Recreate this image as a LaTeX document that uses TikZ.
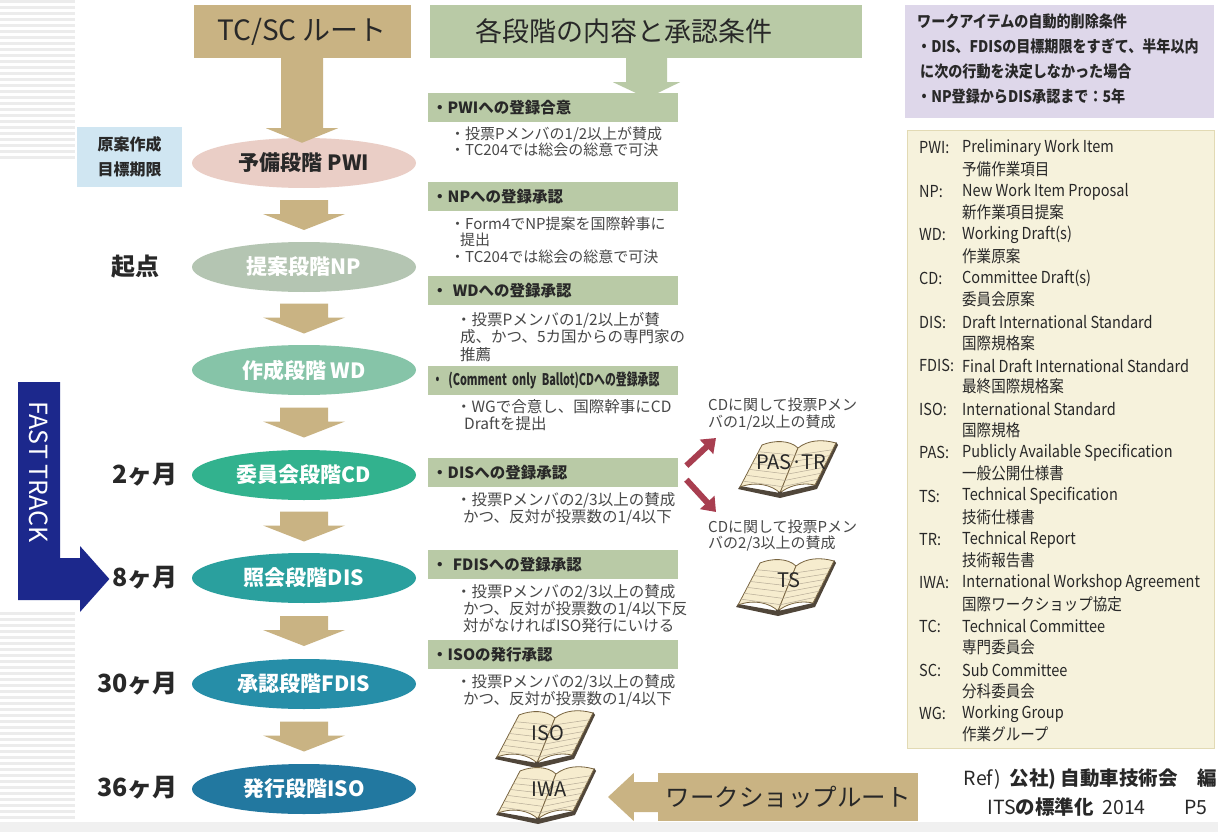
\documentclass[tikz,border=0pt]{standalone}
\usepackage{fontspec}
\setmainfont{Noto Sans CJK JP}
\newfontfamily\condfont{Noto Sans CJK JP}[FakeStretch=0.68]
\newfontfamily\legfont{Noto Sans CJK JP}[FakeStretch=0.88]
\newfontfamily\delfont{Noto Sans CJK JP}[FakeStretch=0.88]
\usetikzlibrary{arrows.meta,calc,shapes.geometric}

\definecolor{tanc}{RGB}{201,179,131}
\definecolor{sage}{RGB}{185,202,166}
\definecolor{skyb}{RGB}{208,230,242}
\definecolor{cpwi}{RGB}{234,206,198}
\definecolor{cnp}{RGB}{180,197,178}
\definecolor{cwd}{RGB}{134,196,168}
\definecolor{ccd}{RGB}{50,178,142}
\definecolor{cdis}{RGB}{42,160,158}
\definecolor{cfdis}{RGB}{38,142,168}
\definecolor{ciso}{RGB}{34,120,160}
\definecolor{ftblue}{RGB}{28,40,140}
\definecolor{redc}{RGB}{168,62,80}
\definecolor{purp}{RGB}{222,215,234}
\definecolor{cream}{RGB}{246,242,220}
\definecolor{creamedge}{RGB}{226,218,180}
\definecolor{txt}{RGB}{40,40,40}
\definecolor{bodytxt}{RGB}{72,72,72}
\definecolor{stripe}{RGB}{236,236,236}
\definecolor{bkpagec}{RGB}{246,236,206}
\definecolor{bkedge}{RGB}{120,100,64}
\definecolor{bkcov}{RGB}{80,70,58}

\tikzset{
  stage/.style={ellipse, minimum width=224pt, minimum height=50pt, inner sep=0pt,
    font=\fontsize{21}{21}\selectfont\bfseries, text=white},
  hdr/.style={rectangle, inner sep=0pt, text=txt},
  condhdr/.style={rectangle, fill=sage, anchor=north west, minimum width=250pt,
    minimum height=29pt, text width=242pt, inner xsep=4pt, inner ysep=0pt,
    align=left, font=\fontsize{15.5}{17}\selectfont\bfseries, text=txt},
  body/.style={anchor=north west, inner sep=0pt, align=left,
    font=\fontsize{15}{16.5}\selectfont, text=bodytxt},
  month/.style={anchor=east, inner sep=0pt, font=\fontsize{25}{25}\selectfont\bfseries, text=txt},
  tanarrow/.style={fill=tanc},
  redarr/.style={draw=redc, line width=6pt, -{Triangle[length=13pt,width=19pt]}},
  note/.style={anchor=north west, inner sep=0pt, align=left,
    font=\fontsize{15}{17}\selectfont, text=bodytxt},
  booklbl/.style={inner sep=0pt, font=\fontsize{20}{20}\selectfont, text=txt},
  legab/.style={anchor=west, inner sep=0pt, font=\legfont\fontsize{16.5}{16.5}\selectfont, text=txt},
  bkpage/.style={fill=bkpagec, draw=bkedge, line width=0.8pt},
  bkline/.style={draw=bkedge!55, line width=0.5pt},
  bkcover/.style={fill=bkcov},
  blockdown/.pic={
    \fill[tanarrow] (-24,-15) -- (24,-15) -- (24,-1) -- (41,-1) -- (0,15)
      -- (-41,-1) -- (-24,-1) -- cycle;
  },
  openbook/.pic={
    \fill[bkcover] (-50,22) -- (-8,31) -- (29,22) -- (50,-22) -- (48,-25)
      -- (27,18) -- (-8,26) -- (-48,19) -- cycle;
    \filldraw[bkpage] (-48,20) .. controls (-32,14) and (-16,18) .. (-8,26)
      -- (10,-19) .. controls (2,-27) and (-14,-27) .. (-26,-22) -- cycle;
    \filldraw[bkpage] (10,-19) .. controls (20,-27) and (34,-28) .. (48,-24)
      -- (27,18) .. controls (14,15) and (0,19) .. (-8,26) -- cycle;
    \foreach \t in {0.16,0.30,0.44,0.58,0.72,0.86}{
      \draw[bkline] ($(-26,-22)!\t!(-48,20)$) -- ($(10,-19)!\t!(-8,26)$);
      \draw[bkline] ($(10,-19)!\t!(-8,26)$) -- ($(48,-24)!\t!(27,18)$);
    }
    \fill[bkcover] (-8,27) circle (2.5);
  }
}

\begin{document}
\begin{tikzpicture}[x=1pt,y=-1pt]
\useasboundingbox (0,0) rectangle (1218,832);
\fill[white] (0,0) rectangle (1218,832);

% slide background: striped margin and bottom band
\foreach \yy in {0,6,...,156} {\fill[stripe] (0,\yy) rectangle (75,\yy+3);}
\foreach \yy in {612,618,...,816} {\fill[stripe] (0,\yy) rectangle (75,\yy+3);}
\fill[gray!12] (0,822) rectangle (1218,832);

% ---------- TC/SC route ----------
\node[hdr, fill=tanc, minimum width=217pt, minimum height=53pt,
  font=\fontsize{28}{28}\selectfont] (tcsc) at (302,31.5) {TC/SC ルート};

\node[stage, fill=cpwi, text=txt] (pwi) at (304,163) {予備段階 PWI};
\node[stage, fill=cnp]  (np)   at (304,267) {提案段階NP};
\node[stage, fill=cwd]  (wd)   at (304,370) {作成段階 WD};
\node[stage, fill=ccd]  (cd)   at (304,475) {委員会段階CD};
\node[stage, fill=cdis] (dis)  at (304,578) {照会段階DIS};
\node[stage, fill=cfdis](fdis) at (304,684) {承認段階FDIS};
\node[stage, fill=ciso] (iso)  at (304,789) {発行段階ISO};

\fill[tanarrow] ($(tcsc.south)+(-21,0)$) -- ($(tcsc.south)+(21,0)$)
  -- ($(tcsc.south)+(21,70)$) -- ($(tcsc.south)+(36,70)$)
  -- ($(pwi.north)+(-2,5)$) -- ($(tcsc.south)+(-36,70)$)
  -- ($(tcsc.south)+(-21,70)$) -- cycle;

\pic at ($(pwi.south)!.5!(np.north)$) {blockdown};
\pic at ($(np.south)!.5!(wd.north)$) {blockdown};
\pic at ($(wd.south)!.5!(cd.north)$) {blockdown};
\pic at ($(cd.south)!.5!(dis.north)$) {blockdown};
\pic at ($(dis.south)!.5!(fdis.north)$) {blockdown};
\pic at ($(fdis.south)!.5!(iso.north)$) {blockdown};

% ---------- time line on the left ----------
\node[fill=skyb, minimum width=105pt, minimum height=60pt, inner sep=0pt,
  align=center, font=\fontsize{16}{25}\selectfont\bfseries, text=txt]
  (goal) at (129.5,157) {原案作成\\目標期限};
\node[inner sep=0pt, font=\fontsize{24}{24}\selectfont\bfseries, text=txt]
  (start) at (135,267) {起点};
\node[month] (m2)  at (178,475) {2ヶ月};
\node[month] (m8)  at (178,578) {8ヶ月};
\node[month] (m30) at (178,684) {30ヶ月};
\node[month] (m36) at (178,788) {36ヶ月};

% fast track
\coordinate (fttip) at ($(m8.west)+(-3,1)$);
\fill[ftblue] (18,382) -- (60,382) -- (60,558) -- (80,558) -- (80,546)
  -- (fttip) -- (80,612) -- (80,600) -- (18,600) -- cycle;
\node[rotate=-90, inner sep=0pt, font=\fontsize{25}{25}\selectfont, text=white]
  (ft) at (39,472) {FAST TRACK};

% ---------- stage conditions ----------
\node[hdr, fill=sage, minimum width=432pt, minimum height=53pt, text width=342pt,
  align=left, font=\fontsize{27}{27}\selectfont] (cond) at (646,31.5)
  {各段階の内容と承認条件};

\node[condhdr] (pwic)  at (428,93)  {・PWIへの登録合意};
\node[condhdr] (npc)   at (428,182) {・NPへの登録承認};
\node[condhdr] (wdc)   at (428,276) {・ WDへの登録承認};
\node[condhdr, font=\condfont\fontsize{16}{17}\selectfont\bfseries]
               (cdc)   at (428,366) {\mbox{・ (Comment only Ballot)CDへの登録承認}};
\node[condhdr] (disc)  at (428,458) {・DISへの登録承認};
\node[condhdr] (fdisc) at (428,550) {・ FDISへの登録承認};
\node[condhdr] (isoc)  at (428,640) {・ISOの発行承認};

\fill[tanarrow, fill=sage] ($(cond.south)+(-20,0)$) -- ($(cond.south)+(21,0)$)
  -- ($(cond.south)+(21,24)$) -- ($(cond.south)+(34,24)$)
  -- ($(cond.south)+(1,40)$) -- ($(cond.south)+(-33,24)$)
  -- ($(cond.south)+(-20,24)$) -- cycle;

\node[body] (pwib) at (450,126.5)
  {・投票Pメンバの1/2以上が賛成\\・TC204では総会の総意で可決};
\node[body] (npb) at (450,216.5)
  {・Form4でNP提案を国際幹事に\\\hspace*{10pt}提出\\・TC204では総会の総意で可決};
\node[body, font=\fontsize{15.5}{17.5}\selectfont] (wdb) at (456,312)
  {・投票Pメンバの1/2以上が賛\\\hspace*{4pt}成、かつ、5カ国からの専門家の\\\hspace*{4pt}推薦};
\node[body, font=\fontsize{15.5}{17}\selectfont] (cdb) at (456,399.5)
  {・WGで合意し、国際幹事にCD\\\hspace*{8pt}Draftを提出};
\node[body, font=\fontsize{15.5}{17}\selectfont] (disb) at (456,492.5)
  {・投票Pメンバの2/3以上の賛成\\\hspace*{7pt}かつ、反対が投票数の1/4以下};
\node[body, font=\fontsize{15.5}{15.8}\selectfont] (fdisb) at (456,584.5)
  {・投票Pメンバの2/3以上の賛成\\\hspace*{7pt}かつ、反対が投票数の1/4以下反\\\hspace*{7pt}対がなければISO発行にいける};
\node[body, font=\fontsize{15.5}{15.5}\selectfont] (isob) at (456,674.5)
  {・投票Pメンバの2/3以上の賛成\\\hspace*{7pt}かつ、反対が投票数の1/4以下};

% ---------- branches from CD ----------
\coordinate (forkA) at ($(disc.east)+(8,-7)$);
\coordinate (forkB) at ($(disc.east)+(8,7)$);
\coordinate (pastip) at (716,438);
\coordinate (tstip) at (716,512);
\draw[redarr] (forkA) -- (pastip);
\draw[redarr] (forkB) -- (tstip);

\node[note] (pasnote) at (708,397.5) {CDに関して投票Pメン\\バの1/2以上の賛成};
\node[note, font=\fontsize{15}{16.5}\selectfont] (tsnote) at (708,519.5)
  {CDに関して投票Pメン\\バの2/3以上の賛成};

\pic at (788,467) {openbook};
\node[booklbl] (paslbl) at (791,462) {PAS·TR};
\pic at (786,585) {openbook};
\node[booklbl] (tslbl) at (789,580) {TS};
\pic at (545,737) {openbook};
\node[booklbl] (isolbl) at (548,733) {ISO};
\pic at (546,793) {openbook};
\node[booklbl] (iwalbl) at (549,789) {IWA};

% ---------- workshop route ----------
\node[hdr, fill=tanc, minimum width=260pt, minimum height=48pt,
  font=\fontsize{24.5}{24.5}\selectfont] (ws) at (788,797) {ワークショップルート};
\coordinate (wstip) at (608,797);
\fill[tanarrow] ($(ws.west)+(2,-15)$) -- ($(ws.west)+(-24,-15)$)
  -- ($(ws.west)+(-24,-24)$) -- (wstip) -- ($(ws.west)+(-24,24)$)
  -- ($(ws.west)+(-24,15)$) -- ($(ws.west)+(2,15)$) -- cycle;

% ---------- deletion conditions ----------
\node[fill=purp, anchor=north west, minimum width=309pt, minimum height=113pt,
  inner sep=0pt] (delbox) at (905,5) {};
\node[anchor=north west, inner sep=0pt, align=left,
  font=\delfont\fontsize{16}{25}\selectfont\bfseries, text=txt]
  (deltext) at ($(delbox.north west)+(12,9)$)
  {ワークアイテムの自動的削除条件\\・DIS、FDISの目標期限をすぎて、半年以内\\\hspace*{3pt}に次の行動を決定しなかった場合\\・NP登録からDIS承認まで：5年};

% ---------- glossary ----------
\node[fill=cream, draw=creamedge, anchor=north west, minimum width=307pt,
  minimum height=618pt, inner sep=0pt] (legbox) at (907,130) {};
\foreach \ab/\en/\jp [count=\i from 0] in {
  PWI:/Preliminary Work Item/予備作業項目,
  NP:/New Work Item Proposal/新作業項目提案,
  WD:/Working Draft(s)/作業原案,
  CD:/Committee Draft(s)/委員会原案,
  DIS:/Draft International Standard/国際規格案,
  FDIS:/Final Draft International Standard/最終国際規格案,
  ISO:/International Standard/国際規格,
  PAS:/Publicly Available Specification/一般公開仕様書,
  TS:/Technical Specification/技術仕様書,
  TR:/Technical Report/技術報告書,
  IWA:/International Workshop Agreement/国際ワークショップ協定,
  TC:/Technical Committee/専門委員会,
  SC:/Sub Committee/分科委員会,
  WG:/Working Group/作業グループ}{
  \node[legab] (la\i) at (919,148+43.5*\i) {\ab};
  \node[legab] (le\i) at (962,148+43.5*\i) {\en};
  \node[legab] (lj\i) at (962,169+43.5*\i) {\jp};
}

% ---------- reference ----------
\node[anchor=east, inner sep=0pt, font=\fontsize{19.5}{19.5}\selectfont, text=txt]
  (ref1) at (1217,779) {Ref)\ \ {\bfseries 公社)\ 自動車技術会\quad 編}};
\node[anchor=east, inner sep=0pt, font=\fontsize{19.5}{19.5}\selectfont, text=txt]
  (ref2) at (1208,807) {ITS{\bfseries の標準化}\ \ 2014\qquad P5};
\end{tikzpicture}
\end{document}
